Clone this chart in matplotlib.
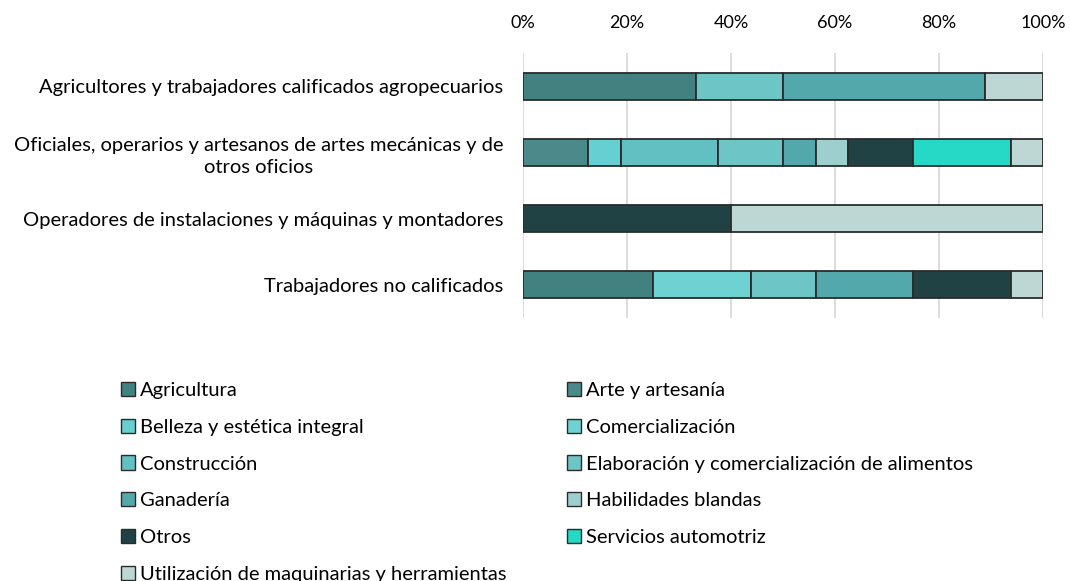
import matplotlib
matplotlib.use("Agg")
import matplotlib.pyplot as plt
from matplotlib.patches import Patch
import numpy as np

plt.rcParams['font.family'] = ['Lato', 'DejaVu Sans']

categories = [
    "Agricultores y trabajadores calificados agropecuarios",
    "Oficiales, operarios y artesanos de artes mecánicas y de\notros oficios",
    "Operadores de instalaciones y máquinas y montadores",
    "Trabajadores no calificados",
]

series = [
    "Agricultura",
    "Arte y artesanía",
    "Belleza y estética integral",
    "Comercialización",
    "Construcción",
    "Elaboración y comercialización de alimentos",
    "Ganadería",
    "Habilidades blandas",
    "Otros",
    "Servicios automotriz",
    "Utilización de maquinarias y herramientas",
]

# share (%) of each series per occupational group, in the order of `categories`
agricultura   = [33.33, 0.0,   0.0,  25.0]
arte          = [0.0,   12.5,  0.0,  0.0]
belleza       = [0.0,   6.25,  0.0,  0.0]
comercial     = [0.0,   0.0,   0.0,  18.75]
construccion  = [0.0,   18.75, 0.0,  0.0]
elaboracion   = [16.67, 12.5,  0.0,  12.5]
ganaderia     = [38.89, 6.25,  0.0,  18.75]
habilidades   = [0.0,   6.25,  0.0,  0.0]
otros         = [0.0,   12.5,  40.0, 18.75]
servicios     = [0.0,   18.75, 0.0,  0.0]
utilizacion   = [11.11, 6.25,  60.0, 6.25]

values = [agricultura, arte, belleza, comercial, construccion, elaboracion,
          ganaderia, habilidades, otros, servicios, utilizacion]

colors = ["#41817f", "#4b8a8a", "#66cfd2", "#6fd2d2", "#62c0c2", "#6dc5c6",
          "#52a8aa", "#9dcfcf", "#214244", "#26d9c6", "#bdd7d5"]

fig = plt.figure(figsize=(10.70, 5.81), dpi=100)
ax = fig.add_axes([523 / 1070, 1 - 318 / 581, 520 / 1070, 265 / 581])

y = np.arange(len(categories))
left = np.zeros(len(categories))
for vals, col in zip(values, colors):
    vals = np.array(vals)
    ax.barh(y, vals, left=left, height=0.41, color=col,
            edgecolor="#2b2b2b", linewidth=1.3, zorder=3)
    left += vals

ax.set_xlim(0, 100)
ax.set_ylim(3.5, -0.5)
ax.set_xticks([0, 20, 40, 60, 80, 100])
ax.set_xticklabels([f"{t}%" for t in [0, 20, 40, 60, 80, 100]])
ax.xaxis.tick_top()
ax.tick_params(axis="x", length=0, pad=16, labelsize=13, colors="#000000")
ax.set_yticks(y)
ax.set_yticklabels(categories, fontsize=14.5, ha="right")
ax.tick_params(axis="y", length=0, pad=14)
for lbl in ax.get_yticklabels():
    lbl.set_multialignment("center")
    lbl.set_linespacing(1.35)
ax.grid(axis="x", color="#d9d9d9", linewidth=1.3, zorder=0)
for s in ax.spines.values():
    s.set_visible(False)

handles = [Patch(facecolor=c, edgecolor="#2b2b2b", linewidth=1.0) for c in colors]
left_idx = [0, 2, 4, 6, 8, 10]
right_idx = [1, 3, 5, 7, 9]
common = dict(frameon=False, fontsize=14.5, handlelength=0.7, handleheight=0.7,
              handletextpad=0.25, labelspacing=0.975, borderaxespad=0, borderpad=0,
              loc="upper left")
fig.legend([handles[i] for i in left_idx], [series[i] for i in left_idx],
           bbox_to_anchor=(121 / 1070, 1 - 382 / 581), **common)
fig.legend([handles[i] for i in right_idx], [series[i] for i in right_idx],
           bbox_to_anchor=(567 / 1070, 1 - 382 / 581), **common)

fig.savefig("out.png", dpi=100)
